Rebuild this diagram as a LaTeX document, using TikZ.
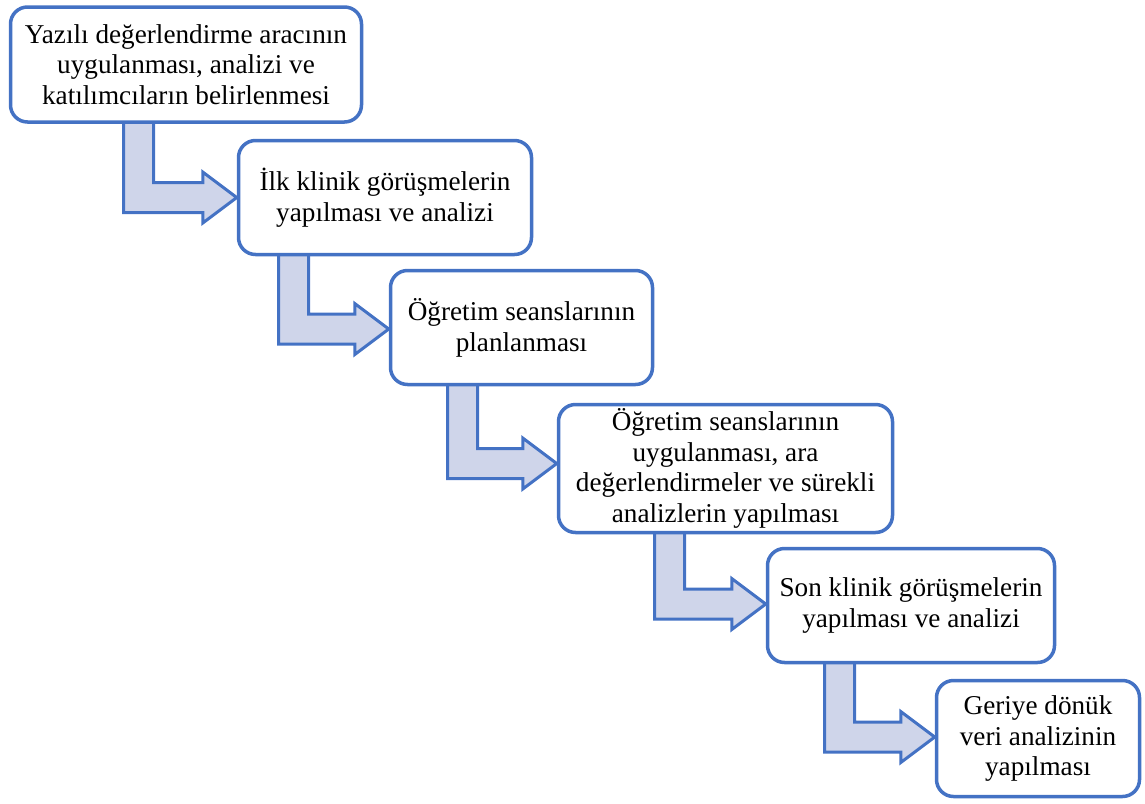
\documentclass[tikz,border=0pt]{standalone}
\usepackage{fontspec}
\setmainfont{Liberation Serif}
\usetikzlibrary{calc}

\definecolor{stepblue}{HTML}{4472C4}
\definecolor{arrowfill}{HTML}{CFD5EA}

% bent block arrow: from box #1 down, then right into box #2
% #3 = left edge of the vertical shaft, #4 = vertical shift of the tip
\newcommand\bentarrow[4]{%
  \draw[flowarrow] let \p1=(#1.south), \p2=($(#2.west)+(0,#4)$) in
    (#3pt,\y1+2pt) -- (#3pt+30pt,\y1+2pt) -- (#3pt+30pt,\y2+15pt)
    -- (\x2-34pt,\y2+15pt) -- (\x2-34pt,\y2+25.5pt) -- (\p2)
    -- (\x2-34pt,\y2-25.5pt) -- (\x2-34pt,\y2-15pt)
    -- (#3pt,\y2-15pt) -- cycle;
}

\begin{document}
\begin{tikzpicture}[x=1pt,y=-1pt,
  stepslot/.style={inner sep=0pt, line width=3.5pt},
  stepbox/.style={stepslot, draw=stepblue, fill=white,
    rounded corners=17pt, align=center,
    font=\fontsize{27.2}{30.8}\selectfont},
  flowarrow/.style={draw=stepblue, line width=3pt, fill=arrowfill,
    line join=miter}]
\useasboundingbox (0,0) rectangle (1145,803);

% outlines of the six steps (invisible, used to anchor the arrows)
\path
  (186,64.5)    node[stepslot, minimum width=351pt, minimum height=115pt] (s1) {}
  (385,197.5)   node[stepslot, minimum width=293pt, minimum height=114pt] (s2) {}
  (521.5,327.5) node[stepslot, minimum width=262pt, minimum height=114pt] (s3) {}
  (725.5,468.5) node[stepslot, minimum width=334pt, minimum height=128pt] (s4) {}
  (911,605.5)   node[stepslot, minimum width=287pt, minimum height=114pt] (s5) {}
  (1038,738.5)  node[stepslot, minimum width=203pt, minimum height=116pt] (s6) {};

% connecting bent arrows
\bentarrow{s1}{s2}{123.5}{0}
\bentarrow{s2}{s3}{278.5}{1.5}
\bentarrow{s3}{s4}{447.5}{-5}
\bentarrow{s4}{s5}{654.5}{-1.5}
\bentarrow{s5}{s6}{824.5}{-1.5}

% boxes with their texts, drawn over the arrow ends
\node[stepbox, minimum width=351pt, minimum height=115pt] at (s1)
  {Yazılı değerlendirme aracının\\uygulanması, analizi ve\\katılımcıların belirlenmesi};
\node[stepbox, minimum width=293pt, minimum height=114pt] at (s2)
  {İlk klinik görüşmelerin\\yapılması ve analizi};
\node[stepbox, minimum width=262pt, minimum height=114pt] at (s3)
  {Öğretim seanslarının\\planlanması};
\node[stepbox, minimum width=334pt, minimum height=128pt] at (s4)
  {Öğretim seanslarının\\uygulanması, ara\\değerlendirmeler ve sürekli\\analizlerin yapılması};
\node[stepbox, minimum width=287pt, minimum height=114pt] at (s5)
  {Son klinik görüşmelerin\\yapılması ve analizi};
\node[stepbox, minimum width=203pt, minimum height=116pt] at (s6)
  {Geriye dönük\\veri analizinin\\yapılması};
\end{tikzpicture}
\end{document}
